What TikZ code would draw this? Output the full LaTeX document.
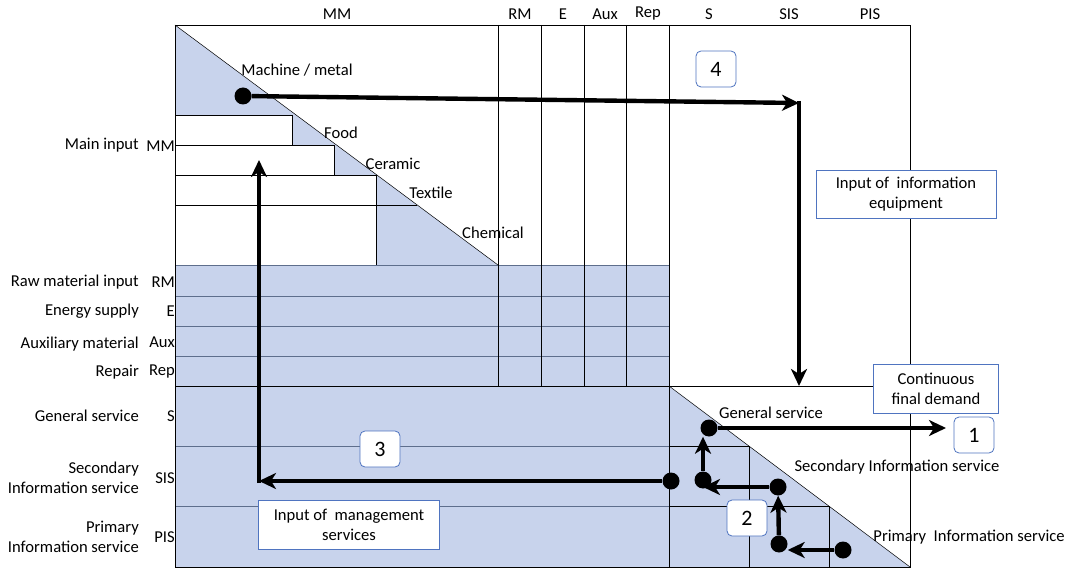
\documentclass[tikz,border=0pt]{standalone}
\usepackage{fontspec}
\setmainfont{Carlito}
\usetikzlibrary{arrows.meta, positioning}
\definecolor{cellbg}{HTML}{C8D3EC}
\definecolor{boxline}{HTML}{4F74C0}
\definecolor{gridblue}{HTML}{5E6E8C}

\begin{document}
\begin{tikzpicture}[
    x=1pt, y=-1pt,
    every node/.style={font=\fontsize{16.6}{20}\selectfont},
    gline/.style={line width=0.8pt},
    bline/.style={line width=0.8pt, draw=gridblue},
    tag/.style={draw=boxline, fill=white, rounded corners=5pt, line width=0.8pt, minimum width=40pt, minimum height=36pt, inner sep=0pt, font=\fontsize{22}{24}\selectfont},
    note/.style={draw=boxline, fill=white, line width=0.8pt, align=center, inner sep=0pt},
    flow/.style={line width=4.4pt, -{Stealth[length=17pt, width=16pt, inset=5pt]}},
    dot/.style={circle, fill=black, inner sep=0pt, minimum size=17pt}
]
\useasboundingbox (0,0) rectangle (1073,569);

% Shaded parts of the table
\fill[cellbg] (175,25) -- (175,115) -- (292,115) -- (292,145) -- (334,145) -- (334,175)
    -- (376,175) -- (376,265) -- (498,265) -- cycle;
\fill[cellbg] (175,265) rectangle (669,567);
\fill[cellbg] (669,386) -- (910,567) -- (669,567) -- cycle;

% Rows inside the shaded block
\draw[bline] (175,265) -- (669,265);
\draw[bline] (175,296) -- (669,296);
\draw[bline] (175,326) -- (669,326);
\draw[bline] (175,356) -- (669,356);
\draw[bline] (175,446) -- (669,446);
\draw[bline] (175,506) -- (669,506);
\draw[gline] (669,446) -- (749,446) -- (749,567);
\draw[gline] (669,506) -- (829,506) -- (829,567);

% Column lines
\draw[gline] (498,25) -- (498,386);
\draw[gline] (541,25) -- (541,386);
\draw[gline] (584,25) -- (584,386);
\draw[gline] (626,25) -- (626,386);
\draw[gline] (669,25) -- (669,567);
\draw[gline] (175,386) -- (910,386);

% Main input steps
\draw[gline] (175,115) -- (292,115) -- (292,145);
\draw[gline] (175,145) -- (334,145) -- (334,175);
\draw[gline] (175,175) -- (376,175) -- (376,265);
\draw[gline] (175,205) -- (417,205);

% Diagonals and frame
\draw[line width=0.5pt] (175,25) -- (498,265);
\draw[line width=0.5pt] (669,386) -- (910,567);
\draw[gline] (175,25) rectangle (910,567);

% Column headers
\node (hMM) at (337,14) {MM};
\node (hRM) at (520,14) {RM};
\node (hE) at (563,14) {E};
\node (hAux) at (605,14) {Aux};
\node (hRep) at (648,14) {Rep};
\node (hS) at (709,14) {S};
\node (hSIS) at (789,14) {SIS};
\node (hPIS) at (870,14) {PIS};

% Row codes
\node[anchor=east, inner sep=0pt] (rMM) at (175,146) {MM};
\node[anchor=east, inner sep=0pt] (rRM) at (175,282) {RM};
\node[anchor=east, inner sep=0pt] (rE) at (175,311) {E};
\node[anchor=east, inner sep=0pt] (rAux) at (175,342) {Aux};
\node[anchor=east, inner sep=0pt] (rRep) at (175,372) {Rep};
\node[anchor=east, inner sep=0pt] (rS) at (175,416) {S};
\node[anchor=east, inner sep=0pt] (rSIS) at (175,478) {SIS};
\node[anchor=east, inner sep=0pt] (rPIS) at (175,537) {PIS};

% Row names
\node[anchor=east, inner sep=0pt] (nMM) at (139,145) {Main input};
\node[anchor=east, inner sep=0pt] (nRM) at (139,282) {Raw material input};
\node[anchor=east, inner sep=0pt] (nE) at (139,311) {Energy supply};
\node[anchor=east, inner sep=0pt] (nAux) at (139,344) {Auxiliary material};
\node[anchor=east, inner sep=0pt] (nRep) at (139,372) {Repair};
\node[anchor=east, inner sep=0pt] (nS) at (139,416) {General service};
\node[anchor=east, inner sep=0pt, align=right] (nSIS) at (139,478) {Secondary\\Information service};
\node[anchor=east, inner sep=0pt, align=right] (nPIS) at (139,537) {Primary\\Information service};

% Sector names along the diagonals
\node (mach) at (297,70) {Machine / metal};
\node (food) at (341,133) {Food};
\node (ceram) at (393,164) {Ceramic};
\node (text) at (431,193) {Textile};
\node (chem) at (493,233) {Chemical};
\node (gserv) at (771,413) {General service};
\node (sserv) at (897,467) {Secondary Information service};
\node (pserv) at (969,537) {Primary~ Information service};

% Boxes
\node[note, minimum width=180pt, minimum height=48pt] (infoeq) at (906,194) {Input of~ information\\equipment};
\node[note, minimum width=181pt, minimum height=49pt] (mgmt) at (349,525) {Input of~ management\\services};
\node[note, minimum width=125pt, minimum height=49pt] (demand) at (936,389) {Continuous\\final demand};
\node[tag] (t4) at (716,69) {4};
\node[tag] (t3) at (380,449) {3};
\node[tag] (t2) at (747,518) {2};
\node[tag] (t1) at (974,435) {1};

% Flow 4
\node[dot] (m4) at (243,96) {};
\coordinate (c4) at (799,103);
\coordinate (d4) at (799,386);
\draw[flow] (m4) -- (c4);
\draw[flow] ([yshift=2pt]c4) -- (d4);

% Flow 3
\node[dot] (s3) at (671,481) {};
\coordinate (k3) at (259,481);
\coordinate (u3) at (259,160);
\draw[flow] (s3) -- (k3);
\draw[flow] ([yshift=-2pt]k3) -- (u3);

% Flows 2 and 1
\node[dot] (p1) at (843,550) {};
\node[dot] (p2) at (779,544) {};
\node[dot] (p3) at (778,487) {};
\node[dot] (p4) at (703,480) {};
\node[dot] (p5) at (709,428) {};
\coordinate (e1) at (946,428);
\draw[flow] (p1) -- (p2.east |- p1);
\draw[flow] (p2) -- (p3);
\draw[flow] (p3) -- (p4 |- p3);
\draw[flow] (p4) -- (p4 |- p5.south);
\draw[flow] (p5) -- (e1);
\end{tikzpicture}
\end{document}
